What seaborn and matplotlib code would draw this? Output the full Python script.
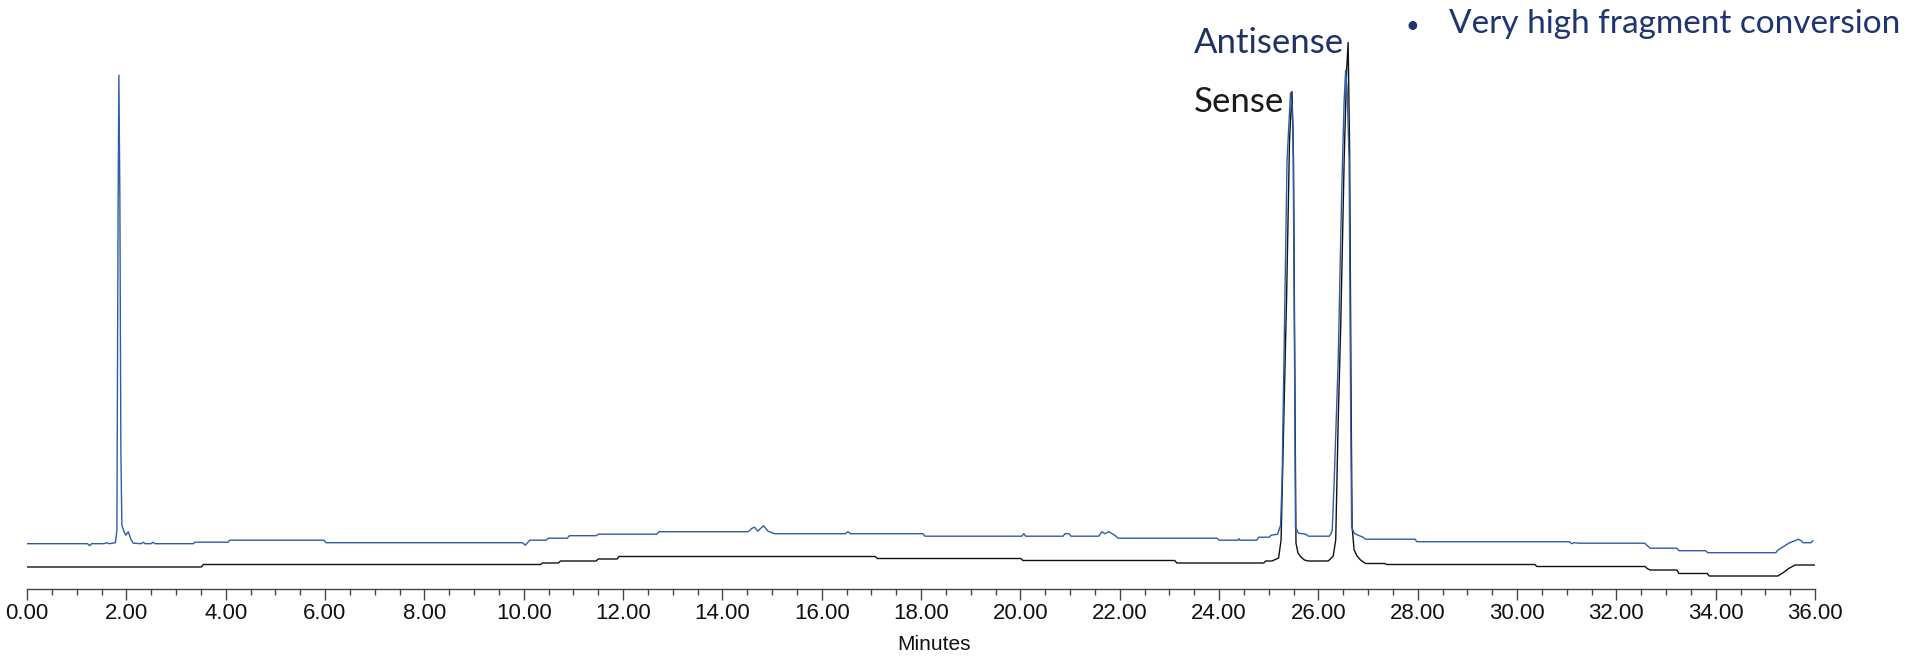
import numpy as np
import pandas as pd
import matplotlib
matplotlib.use('Agg')
import matplotlib.pyplot as plt
import seaborn as sns
from matplotlib.ticker import MultipleLocator, FormatStrFormatter

# Chromatogramm: Zeit (min) und Signal, von Hand aus dem Bild abgelesen
# blaue Spur (Antisense/Sense Überlagerung), Signal relativ zur eigenen Basislinie
blue_time = [0.00, 1.22, 1.26, 1.30, 1.55, 1.60, 1.66, 1.78, 1.81, 1.835, 1.85, 1.87, 1.89, 1.91,
             1.95, 1.99, 2.04, 2.09, 2.14, 2.30, 2.34, 2.38, 2.50, 2.54, 2.58, 3.35, 3.38, 4.05,
             4.08, 5.98, 6.02, 9.98, 10.03, 10.08, 10.12, 10.45, 10.50, 10.88, 10.92, 11.46, 11.50,
             12.68, 12.72, 14.52, 14.60, 14.65, 14.71, 14.83, 14.92, 15.05, 16.48, 16.53, 16.58,
             18.04, 18.08, 20.03, 20.07, 20.11, 20.86, 20.90, 20.98, 21.02, 21.58, 21.64, 21.70,
             21.78, 21.90, 21.97, 23.96, 24.00, 24.38, 24.40, 24.42, 24.76, 24.80, 25.01, 25.05,
             25.18, 25.24, 25.27, 25.31, 25.37, 25.44, 25.47, 25.49, 25.52, 25.54, 25.60, 25.75,
             25.80, 26.22, 26.25, 26.28, 26.32, 26.40, 26.47, 26.52, 26.55, 26.58, 26.62, 26.65,
             26.67, 26.72, 26.80, 26.90, 26.95, 27.95, 27.98, 31.05, 31.10, 31.15, 31.25, 32.57,
             32.68, 33.22, 33.26, 33.80, 33.84, 35.21, 35.25, 35.36, 35.49, 35.60, 35.66, 35.72,
             35.76, 35.92, 35.96]
blue_signal = [0.0, 0.0, -0.4, 0.0, 0.0, 0.2, 0.0, 0.2, 2.7, 68.7, 93.7, 68.7, 18.7, 3.7,
               2.5, 1.7, 2.4, 0.9, 0.1, 0.0, 0.3, 0.0, 0.0, 0.3, 0.0, 0.0, 0.3, 0.3,
               0.7, 0.7, 0.2, 0.2, -0.3, 0.2, 0.7, 0.7, 1.1, 1.1, 1.6, 1.6, 1.9,
               1.9, 2.4, 2.4, 3.1, 3.3, 2.5, 3.6, 2.5, 2.0, 2.0, 2.4, 2.0,
               2.0, 1.5, 1.5, 2.0, 1.5, 1.5, 2.0, 2.0, 1.5, 1.5, 2.4, 2.0,
               2.4, 1.7, 1.1, 1.1, 0.7, 0.7, 1.0, 0.7, 0.7, 1.3, 1.3, 1.7,
               1.9, 3.7, 12.7, 38.1, 76.7, 90.2, 87.7, 83.3, 38.7, 3.3, 2.1, 1.9,
               1.5, 1.5, 1.9, 2.7, 12.7, 36.7, 70.1, 88.7, 94.7, 90.7, 76.7, 28.7,
               3.3, 2.1, 1.7, 1.3, 0.9, 0.9, 0.4, 0.4, 0.0, 0.2, 0.1, 0.1,
               -0.9, -0.9, -1.4, -1.4, -1.8, -1.8, -1.3, -0.6, 0.2, 0.6, 0.9, 0.6,
               0.2, 0.2, 0.6]

# schwarze Spur
black_time = [0.00, 3.51, 3.55, 10.34, 10.38, 10.70, 10.74, 11.46, 11.50, 11.88, 11.92, 17.08,
              17.12, 20.01, 20.05, 23.11, 23.15, 24.90, 24.94, 25.07, 25.11, 25.20, 25.25, 25.30,
              25.35, 25.36, 25.42, 25.47, 25.50, 25.53, 25.55, 25.59, 25.65, 25.72, 25.80, 26.20,
              26.24, 26.30, 26.35, 26.40, 26.45, 26.52, 26.57, 26.60, 26.63, 26.66, 26.68, 26.72,
              26.78, 26.85, 26.95, 27.34, 27.38, 30.36, 30.40, 32.58, 32.62, 32.68, 33.22, 33.26,
              33.83, 33.87, 35.25, 35.35, 35.47, 35.60, 36.00]
black_signal = [0.0, 0.0, 0.5, 0.5, 0.8, 0.8, 1.2, 1.2, 1.6, 1.6, 2.1, 2.1,
                1.7, 1.7, 1.3, 1.3, 0.8, 0.8, 1.2, 1.2, 1.4, 1.8, 5.4, 27.4,
                49.4, 53.4, 85.4, 95.1, 81.4, 33.4, 4.8, 2.8, 2.0, 1.4, 1.2, 1.2,
                1.6, 2.2, 5.4, 29.4, 48.0, 81.4, 99.4, 104.9, 83.4, 33.4, 8.0, 3.4,
                2.2, 1.4, 0.7, 0.7, 0.5, 0.5, 0.1, 0.1, -0.3, -0.6, -0.6, -1.3,
                -1.3, -1.8, -1.8, -1.2, -0.3, 0.4, 0.4]

blue_offset = 4.66

blue_df = pd.DataFrame({'Minutes': blue_time, 'Signal': np.array(blue_signal) + blue_offset})
black_df = pd.DataFrame({'Minutes': black_time, 'Signal': black_signal})

sns.set_style('ticks')
plt.rcParams['font.family'] = ['Liberation Sans', 'DejaVu Sans']

fig = plt.figure(figsize=(19.12, 6.57), dpi=100)
ax = fig.add_axes([27 / 1912, 1 - 589 / 657, 1788 / 1912, 589 / 657])

sns.lineplot(data=black_df, x='Minutes', y='Signal', ax=ax, color='#111111',
             linewidth=1.0, estimator=None, sort=False)
sns.lineplot(data=blue_df, x='Minutes', y='Signal', ax=ax, color='#2d5cab',
             linewidth=1.0, estimator=None, sort=False)

ax.set_xlim(0, 36)
ax.set_ylim(-4.4, 113.4)
ax.xaxis.set_major_locator(MultipleLocator(2))
ax.xaxis.set_minor_locator(MultipleLocator(0.5))
ax.xaxis.set_major_formatter(FormatStrFormatter('%.2f'))
ax.tick_params(axis='x', which='major', length=8, width=1, color='#444444',
               labelsize=16, labelcolor='#111111', pad=2)
ax.tick_params(axis='x', which='minor', length=4, width=1, color='#444444')
ax.set_yticks([])
ax.set_ylabel('')
sns.despine(ax=ax, left=True, top=True, right=True)
ax.spines['bottom'].set_color('#444444')
ax.spines['bottom'].set_linewidth(1)
ax.patch.set_alpha(0)

ax.set_xlabel('Minutes', fontsize=15, color='#111111')
ax.xaxis.set_label_coords(0.507, -56 / 589)
ax.xaxis.label.set_va('center')

# Peak-Beschriftungen
ax.text(23.5, 102.8, 'Antisense', fontsize=25, color='#1e3264',
        family=['Lato', 'DejaVu Sans'], va='baseline', ha='left')
ax.text(23.5, 91.0, 'Sense', fontsize=25, color='#1a1a1a',
        family=['Lato', 'DejaVu Sans'], va='baseline', ha='left')

fig.text(1405 / 1912, 1 - 33 / 657, '\u2022', fontsize=17, color='#1f3570',
         family=['Lato', 'DejaVu Sans'], va='baseline', ha='left')
fig.text(1449 / 1912, 1 - 33 / 657, 'Very high fragment conversion', fontsize=24,
         color='#1f3570', family=['Lato', 'DejaVu Sans'],
         va='baseline', ha='left')

fig.savefig('out.png', dpi=100)
